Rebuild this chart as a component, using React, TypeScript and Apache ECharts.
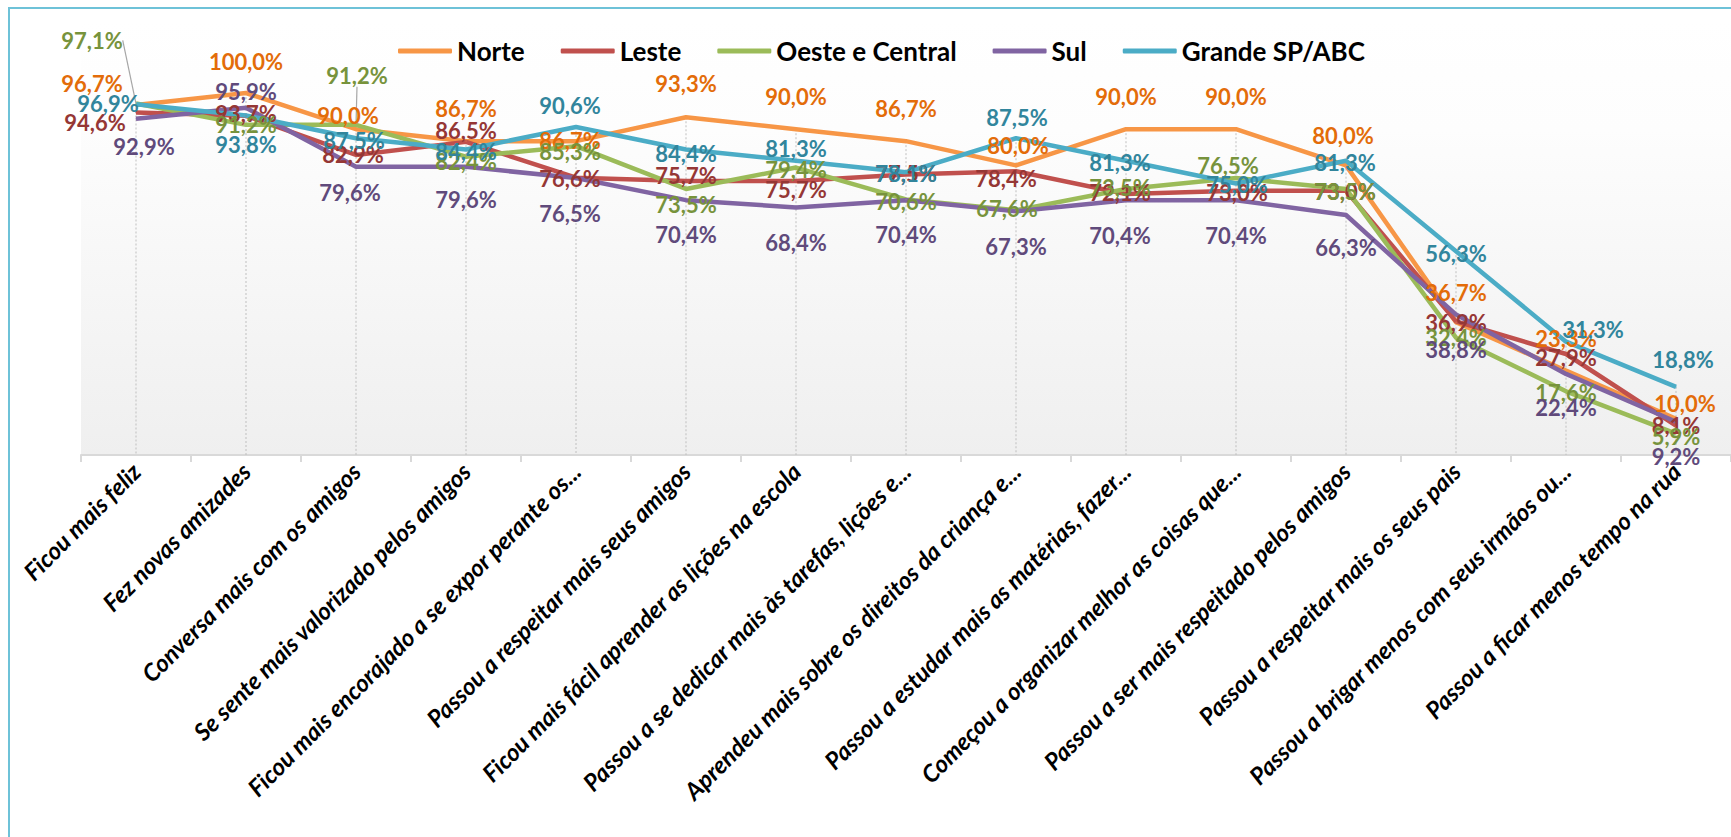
import React, { useEffect, useRef } from "react";
import * as echarts from "echarts";

const categories = [
  "Ficou mais feliz",
  "Fez novas amizades",
  "Conversa mais com os amigos",
  "Se sente mais valorizado pelos amigos",
  "Ficou mais encorajado a se expor perante os...",
  "Passou a respeitar mais seus amigos",
  "Ficou mais fácil aprender as lições na escola",
  "Passou a se dedicar mais às tarefas, lições e...",
  "Aprendeu mais sobre os direitos da criança e...",
  "Passou a estudar mais as matérias, fazer...",
  "Começou a organizar melhor as coisas que...",
  "Passou a ser mais respeitado pelos amigos",
  "Passou a respeitar mais os seus pais",
  "Passou a brigar menos com seus irmãos ou...",
  "Passou a ficar menos tempo na rua",
];

const norte = [96.7, 100.0, 90.0, 86.7, 86.7, 93.3, 90.0, 86.7, 80.0, 90.0, 90.0, 80.0, 36.7, 23.3, 10.0];
const leste = [94.6, 93.7, 82.9, 86.5, 76.6, 75.7, 75.7, 77.5, 78.4, 72.1, 73.0, 73.0, 36.9, 27.9, 8.1];
const oesteCentral = [97.1, 91.2, 91.2, 82.4, 85.3, 73.5, 79.4, 70.6, 67.6, 73.5, 76.5, 73.5, 32.4, 17.6, 5.9];
const sul = [92.9, 95.9, 79.6, 79.6, 76.5, 70.4, 68.4, 70.4, 67.3, 70.4, 70.4, 66.3, 38.8, 22.4, 9.2];
const grandeSP = [96.9, 93.8, 87.5, 84.4, 90.6, 84.4, 81.3, 78.1, 87.5, 81.3, 75.0, 81.3, 56.3, 31.3, 18.8];

const seriesNames = ["Norte", "Leste", "Oeste e Central", "Sul", "Grande SP/ABC"];
const seriesValues = [norte, leste, oesteCentral, sul, grandeSP];

const lineColors = ["#F79646", "#C0504D", "#9BBB59", "#8064A2", "#4BACC6"];
const labelColors = ["#E36C09", "#953735", "#77933C", "#604A7B", "#31859C"];

// label placement offsets (px) relative to each point, per series
const labelOffsets: number[][][] = [
  [[-44, -21], [0, -32], [-8, -14], [0, -33], [-6, -1], [0, -34], [0, -33], [0, -33], [2, -20], [0, -33], [0, -33], [-3, -30], [0, -30], [0, -32], [9, -15]],
  [[-41, 10], [0, -2], [-3, 0], [0, -11], [-6, 1], [0, -5], [0, 9], [0, -1], [-10, 7], [-6, -1], [1, 2], [-1, 1], [0, 1], [0, 3], [0, 0]],
  [[-44, -63], [0, 0], [1, -49], [0, 5], [-6, 5], [0, 16], [0, 2], [0, 2], [-9, -2], [-6, -1], [-8, -13], [-1, 3], [0, 0], [0, 1], [0, 3]],
  [[8, 28], [0, -16], [-6, 26], [0, 33], [-6, 35], [0, 34], [0, 35], [0, 34], [0, 35], [-6, 35], [0, 35], [0, 33], [0, 35], [0, 34], [0, 35]],
  [[-28, -1], [0, 29], [-2, 2], [0, 2], [-6, -22], [0, 4], [0, -12], [0, 1], [1, -21], [-6, 2], [1, 1], [-1, 2], [0, 2], [27, -12], [7, -27]],
];

// labels that carry a leader line: [seriesIndex, categoryIndex]
const leaderLines = [[2, 0], [2, 2]];

const FONT = "Lato, 'Noto Sans', sans-serif";

function fmt(v: number) {
  return v.toFixed(1).replace(".", ",") + "%";
}

export default function App() {
  const ref = useRef<HTMLDivElement>(null);

  useEffect(() => {
    if (!ref.current) return;
    const chart = echarts.init(ref.current, undefined, { renderer: "svg" });

    const maxPerCat = categories.map((_, i) => [i, Math.max(...seriesValues.map((s) => s[i]))]);

    const lineSeries = seriesValues.map((vals, si) => ({
      name: seriesNames[si],
      type: "line",
      z: 3,
      data: vals.map((v, ci) => {
        const lead = leaderLines.some(([s, c]) => s === si && c === ci);
        return lead
          ? { value: v, labelLine: { show: true, lineStyle: { color: "#A6A6A6", width: 1.2 } } }
          : v;
      }),
      symbol: "circle",
      symbolSize: 1,
      showSymbol: true,
      itemStyle: { color: lineColors[si] },
      lineStyle: { color: lineColors[si], width: 4.5 },
      label: {
        show: true,
        position: "inside",
        formatter: (p: any) => fmt(p.value),
        color: labelColors[si],
        fontFamily: FONT,
        fontWeight: "bold",
        fontSize: 22,
      },
      labelLine: { show: false, lineStyle: { color: "#A6A6A6", width: 1.2 } },
      labelLayout: (p: any) => {
        const o = labelOffsets[si][p.dataIndex];
        return { dx: o[0], dy: o[1] };
      },
      emphasis: { disabled: true },
    }));

    chart.setOption({
      animation: false,
      backgroundColor: "#FFFFFF",
      graphic: [
        {
          type: "rect",
          shape: { x: 9, y: 8, width: 1800, height: 900 },
          style: { fill: "none", stroke: "#6EC2D8", lineWidth: 2 },
          silent: true,
          z: 100,
        },
      ],
      legend: {
        data: seriesNames,
        left: 393,
        top: 30,
        icon: "roundRect",
        itemWidth: 54,
        itemHeight: 5,
        itemGap: 36,
        textStyle: { fontFamily: FONT, fontWeight: "bold", fontSize: 26, color: "#000000", lineHeight: 32 },
      },
      grid: {
        left: 81,
        right: -17.5,
        top: 20.6,
        bottom: 382,
        show: true,
        borderWidth: 0,
        backgroundColor: new echarts.graphic.LinearGradient(0, 0, 0, 1, [
          { offset: 0, color: "#FFFFFF" },
          { offset: 0.25, color: "#FDFDFD" },
          { offset: 1, color: "#EFEFEF" },
        ]),
      },
      xAxis: {
        type: "category",
        data: categories,
        boundaryGap: true,
        axisLine: { lineStyle: { color: "#D9D9D9", width: 2 } },
        axisTick: { show: true, length: 7, lineStyle: { color: "#D9D9D9", width: 2 } },
        axisLabel: {
          interval: 0,
          rotate: 45,
          margin: 12,
          color: "#000000",
          fontFamily: FONT,
          fontWeight: "bold",
          fontStyle: "italic",
          fontSize: 24,
        },
        splitLine: { show: false },
      },
      yAxis: {
        type: "value",
        min: 0,
        max: 120,
        interval: 20,
        show: false,
        splitLine: { show: false },
      },
      series: [
        {
          type: "custom",
          name: "dropLines",
          z: 1,
          silent: true,
          data: maxPerCat,
          encode: { x: 0, y: 1 },
          renderItem: (params: any, api: any) => {
            const top = api.coord([api.value(0), api.value(1)]);
            const bottom = api.coord([api.value(0), 0]);
            return {
              type: "line",
              shape: { x1: top[0], y1: top[1], x2: bottom[0], y2: bottom[1] },
              style: { stroke: "#BFBFBF", lineWidth: 1, lineDash: [2, 2] },
            };
          },
        },
        ...lineSeries,
      ],
    });

    return () => chart.dispose();
  }, []);

  return (
    <div
      ref={ref}
      style={{ position: "fixed", left: 0, top: 0, width: 1731, height: 837 }}
    />
  );
}
